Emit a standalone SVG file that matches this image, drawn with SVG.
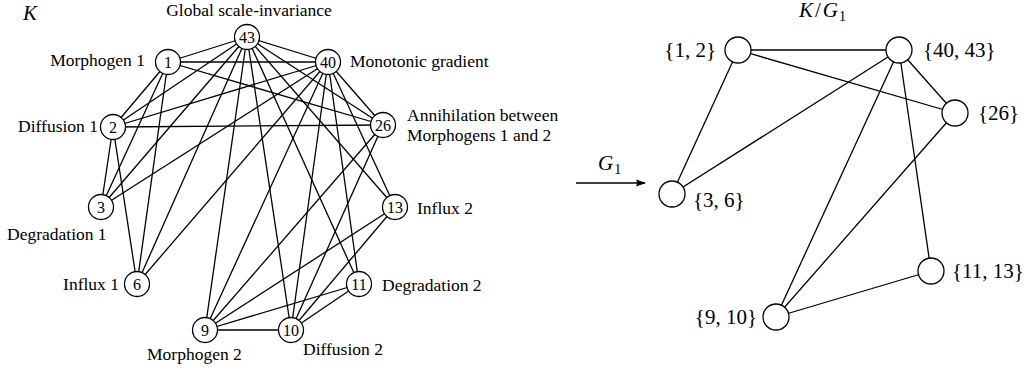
<svg xmlns="http://www.w3.org/2000/svg" width="1025" height="368" viewBox="0 0 1025 368">
<defs>
<style>
.e{stroke:#000;stroke-width:1.3;fill:none}
.n{fill:#fff;stroke:#000;stroke-width:1.3}
.t{font-family:"Liberation Serif","Times New Roman",serif;font-size:17.5px;fill:#000}
.m{font-family:"Liberation Serif","Times New Roman",serif;font-size:21px;fill:#000}
.d{font-family:"Liberation Serif","Times New Roman",serif;font-size:16px;fill:#000;text-anchor:middle}
.i{font-style:italic}
</style>
<marker id="ah" viewBox="0 0 10 10" refX="9" refY="5" markerWidth="10" markerHeight="10" markerUnits="userSpaceOnUse" orient="auto">
<path d="M0,1.5 L10,5 L0,8.5 Q2,5 0,1.5 Z" fill="#000"/>
</marker>
</defs>
<rect width="1025" height="368" fill="#fff"/>
<text class="m i" x="23" y="20">K</text>
<g id="edges-K">
<line class="e" x1="168" y1="62" x2="113" y2="127"/>
<line class="e" x1="168" y1="62" x2="101" y2="207"/>
<line class="e" x1="168" y1="62" x2="137" y2="284"/>
<line class="e" x1="168" y1="62" x2="383" y2="125"/>
<line class="e" x1="168" y1="62" x2="328" y2="62"/>
<line class="e" x1="168" y1="62" x2="247" y2="37"/>
<line class="e" x1="113" y1="127" x2="101" y2="207"/>
<line class="e" x1="113" y1="127" x2="137" y2="284"/>
<line class="e" x1="113" y1="127" x2="383" y2="125"/>
<line class="e" x1="113" y1="127" x2="328" y2="62"/>
<line class="e" x1="113" y1="127" x2="247" y2="37"/>
<line class="e" x1="101" y1="207" x2="328" y2="62"/>
<line class="e" x1="101" y1="207" x2="247" y2="37"/>
<line class="e" x1="137" y1="284" x2="328" y2="62"/>
<line class="e" x1="137" y1="284" x2="247" y2="37"/>
<line class="e" x1="383" y1="125" x2="328" y2="62"/>
<line class="e" x1="383" y1="125" x2="247" y2="37"/>
<line class="e" x1="383" y1="125" x2="205" y2="330"/>
<line class="e" x1="383" y1="125" x2="291" y2="330"/>
<line class="e" x1="328" y1="62" x2="247" y2="37"/>
<line class="e" x1="328" y1="62" x2="205" y2="330"/>
<line class="e" x1="328" y1="62" x2="291" y2="330"/>
<line class="e" x1="328" y1="62" x2="359" y2="284"/>
<line class="e" x1="328" y1="62" x2="395" y2="207"/>
<line class="e" x1="247" y1="37" x2="205" y2="330"/>
<line class="e" x1="247" y1="37" x2="291" y2="330"/>
<line class="e" x1="247" y1="37" x2="359" y2="284"/>
<line class="e" x1="247" y1="37" x2="395" y2="207"/>
<line class="e" x1="205" y1="330" x2="291" y2="330"/>
<line class="e" x1="205" y1="330" x2="359" y2="284"/>
<line class="e" x1="205" y1="330" x2="395" y2="207"/>
<line class="e" x1="291" y1="330" x2="359" y2="284"/>
<line class="e" x1="291" y1="330" x2="395" y2="207"/>
</g>
<g id="n43"><circle class="n" cx="247" cy="37" r="12.5"/><text class="d" x="247" y="42.5">43</text><text class="t" x="249" y="16" text-anchor="middle">Global scale-invariance</text></g>
<g id="n1"><circle class="n" cx="168" cy="62" r="12.5"/><text class="d" x="168" y="67.5">1</text><text class="t" x="145" y="66" text-anchor="end">Morphogen 1</text></g>
<g id="n40"><circle class="n" cx="328" cy="62" r="12.5"/><text class="d" x="328" y="67.5">40</text><text class="t" x="350" y="67">Monotonic gradient</text></g>
<g id="n2"><circle class="n" cx="113" cy="127" r="12.5"/><text class="d" x="113" y="132.5">2</text><text class="t" x="98" y="132" text-anchor="end">Diffusion 1</text></g>
<g id="n26"><circle class="n" cx="383" cy="125" r="12.5"/><text class="d" x="383" y="130.5">26</text><text class="t" x="407" y="121">Annihilation between</text><text class="t" x="407" y="141">Morphogens 1 and 2</text></g>
<g id="n3"><circle class="n" cx="101" cy="207" r="12.5"/><text class="d" x="101" y="212.5">3</text><text class="t" x="7" y="240">Degradation 1</text></g>
<g id="n13"><circle class="n" cx="395" cy="207" r="12.5"/><text class="d" x="395" y="212.5">13</text><text class="t" x="417" y="214">Influx 2</text></g>
<g id="n6"><circle class="n" cx="137" cy="284" r="12.5"/><text class="d" x="137" y="289.5">6</text><text class="t" x="119" y="290" text-anchor="end">Influx 1</text></g>
<g id="n11"><circle class="n" cx="359" cy="284" r="12.5"/><text class="d" x="359" y="289.5">11</text><text class="t" x="382" y="291">Degradation 2</text></g>
<g id="n9"><circle class="n" cx="205" cy="330" r="12.5"/><text class="d" x="205" y="335.5">9</text><text class="t" x="147" y="360">Morphogen 2</text></g>
<g id="n10"><circle class="n" cx="291" cy="330" r="12.5"/><text class="d" x="291" y="335.5">10</text><text class="t" x="303" y="355">Diffusion 2</text></g>
<g id="arrow">
<line class="e" x1="576" y1="183" x2="645" y2="183" marker-end="url(#ah)"/>
<text class="m" x="598" y="170"><tspan font-style="italic">G</tspan><tspan font-size="14" dx="1" dy="4">1</tspan></text>
</g>
<text class="m" x="799" y="17"><tspan font-style="italic">K</tspan><tspan dx="2">/</tspan><tspan dx="2" font-style="italic">G</tspan><tspan font-size="14" dx="1" dy="4">1</tspan></text>
<g id="edges-Q">
<line class="e" x1="738" y1="50" x2="899" y2="50"/>
<line class="e" x1="738" y1="50" x2="955" y2="113"/>
<line class="e" x1="738" y1="50" x2="672" y2="194"/>
<line class="e" x1="672" y1="194" x2="899" y2="50"/>
<line class="e" x1="899" y1="50" x2="955" y2="113"/>
<line class="e" x1="899" y1="50" x2="776" y2="317"/>
<line class="e" x1="899" y1="50" x2="931" y2="271"/>
<line class="e" x1="955" y1="113" x2="776" y2="317"/>
<line class="e" x1="776" y1="317" x2="931" y2="271"/>
</g>
<g id="q12"><circle class="n" cx="738" cy="50" r="13"/><text class="m" x="716" y="57" text-anchor="end">{1, 2}</text></g>
<g id="q4043"><circle class="n" cx="899" cy="50" r="13"/><text class="m" x="923" y="57">{40, 43}</text></g>
<g id="q26"><circle class="n" cx="955" cy="113" r="13"/><text class="m" x="978" y="120">{26}</text></g>
<g id="q36"><circle class="n" cx="672" cy="194" r="13"/><text class="m" x="693" y="207">{3, 6}</text></g>
<g id="q1113"><circle class="n" cx="931" cy="271" r="13"/><text class="m" x="952" y="278">{11, 13}</text></g>
<g id="q910"><circle class="n" cx="776" cy="317" r="13"/><text class="m" x="757" y="324" text-anchor="end">{9, 10}</text></g>
</svg>
